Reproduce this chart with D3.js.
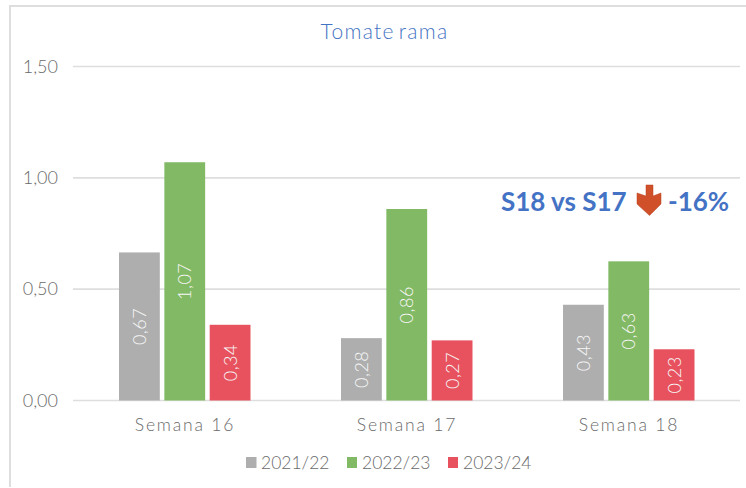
<!DOCTYPE html>
<html><head><meta charset="utf-8">
<script src="https://cdn.jsdelivr.net/npm/d3@7"></script>
<style>html,body{margin:0;padding:0;background:#fff}svg{display:block}text{font-family:Lato,sans-serif}</style>
</head><body><svg id="c" width="746" height="488"></svg>
<script>
const categories=["Semana 16","Semana 17","Semana 18"];
const seriesNames=["2021/22","2022/23","2023/24"];
const colors=["#aeaeae","#82b964","#e7525e"];
const s1=[0.665,0.28,0.43];
const s2=[1.07,0.86,0.625];
const s3=[0.34,0.27,0.23];
const labels1=["0,67","0,28","0,43"];
const labels2=["1,07","0,86","0,63"];
const labels3=["0,34","0,27","0,23"];
const yTicks=[0,0.5,1,1.5];
const seriesVals=[s1,s2,s3],seriesLabels=[labels1,labels2,labels3];
const svg=d3.select("#c");
const y=d3.scaleLinear().domain([0,1.5]).range([400.5,66.5]);
const x=d3.scaleBand().domain(categories).range([74,740]).padding(0);
const x1=d3.scaleBand().domain(seriesNames).range([45,176.5]).paddingInner(0.1);
const grey="#6a6a6a";
svg.append("path").attr("d","M10,487V6H746").attr("fill","none").attr("stroke","#dedede").attr("stroke-width",2);
svg.append("text").attr("x",384.5).attr("y",39).attr("text-anchor","middle").attr("font-size",21).attr("fill","#4472c4").attr("font-weight",300).style("letter-spacing","1.3px").style("word-spacing","-3px").text("Tomate rama");
const ya=svg.append("g").attr("transform","translate(74,0)").call(d3.axisLeft(y).tickValues(yTicks).tickFormat(d=>d3.format(".2f")(d).replace(".",",")).tickSize(0).tickPadding(16));
ya.select(".domain").remove();
ya.selectAll("text").attr("font-size",18).attr("font-weight",300).attr("fill",grey).style("font-family","Lato,sans-serif");
svg.append("g").selectAll("line").data(yTicks).join("line").attr("x1",73).attr("x2",740).attr("y1",d=>y(d)).attr("y2",d=>y(d)).attr("stroke","#dedede").attr("stroke-width",1.6);
seriesNames.forEach((n,si)=>{
 const g=svg.append("g");
 categories.forEach((c,i)=>{
  const v=seriesVals[si][i],bx=x(c)+x1(n),bw=x1.bandwidth();
  g.append("rect").attr("x",bx).attr("y",y(v)).attr("width",bw).attr("height",y(0)-y(v)).attr("fill",colors[si]);
  const cx=bx+bw/2,cy=(y(v)+y(0))/2;
  g.append("text").attr("transform",`translate(${cx+6.5},${cy}) rotate(-90)`).attr("text-anchor","middle").attr("font-size",18).attr("font-weight",300).attr("fill","#f7f7f7").style("letter-spacing","0.5px").text(seriesLabels[si][i]);
 });
});
const xa=svg.append("g").attr("transform","translate(0,400.5)").call(d3.axisBottom(x).tickSize(0).tickPadding(0));
xa.select(".domain").remove();
xa.selectAll("text").attr("font-size",17.5).attr("font-weight",300).attr("fill",grey).attr("y",30.5).attr("dy",0).style("font-family","Lato,sans-serif").style("letter-spacing","1.8px");
xa.selectAll(".tick").attr("transform",(d)=>`translate(${x(d)+111},0)`);
const lx=[246,347,448];
seriesNames.forEach((n,i)=>{
 svg.append("rect").attr("x",lx[i]).attr("y",457).attr("width",i===0?10.5:10).attr("height",11).attr("fill",colors[i]);
 svg.append("text").attr("x",lx[i]+15).attr("y",468.5).attr("font-size",17.5).attr("font-weight",300).attr("fill",grey).text(n);
});
const blue="#4472c4";
svg.append("text").attr("x",501).attr("y",211).attr("font-size",26).attr("font-weight",700).attr("fill",blue).text("S18 vs S17");
svg.append("text").attr("x",668).attr("y",211).attr("font-size",26).attr("font-weight",700).attr("fill",blue).text("-16%");
svg.append("path").attr("d","M646,185H653V196L661,193V204L649.5,215.5L637,204V193L646,196Z").attr("fill","#d0502a").attr("stroke","#b8431f").attr("stroke-width",0.5);
</script></body></html>
